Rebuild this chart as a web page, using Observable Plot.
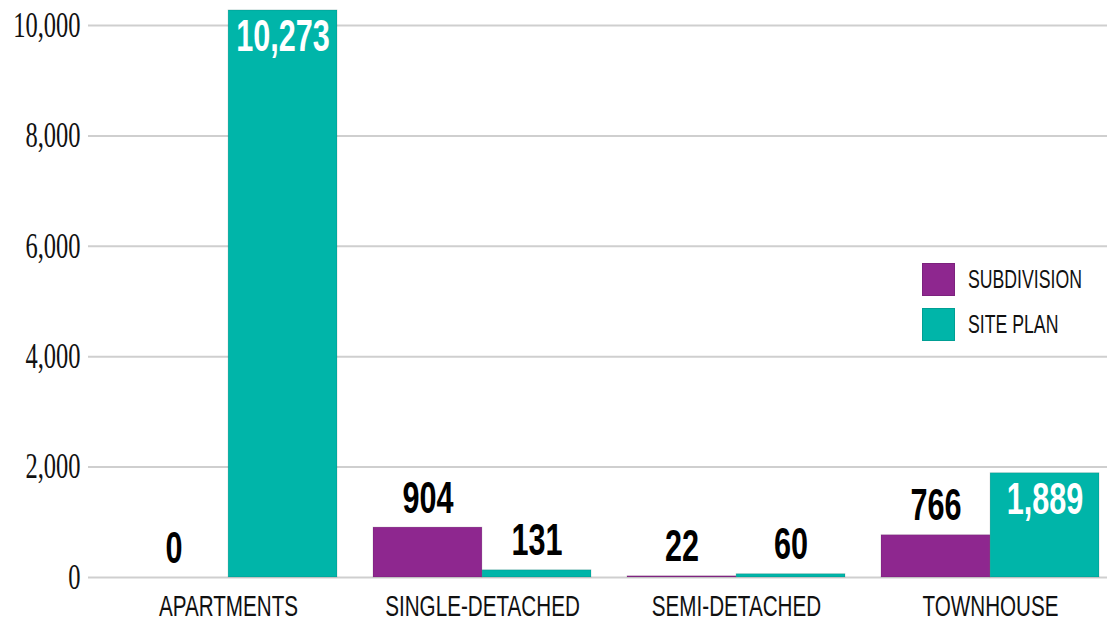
<!DOCTYPE html>
<html>
<head>
<meta charset="utf-8">
<script src="https://cdn.jsdelivr.net/npm/d3@7"></script>
<script src="https://cdn.jsdelivr.net/npm/@observablehq/plot@0.6"></script>
<style>
  html, body { margin: 0; padding: 0; background: #fff; }
  #wrap { position: relative; width: 1107px; height: 626px; overflow: hidden; }
  #chart svg { display: block; }
  #legend { position: absolute; left: 922px; top: 263px; font-family: "Liberation Sans", Arial, sans-serif; font-size: 26px; color: #111; }
  .item { display: flex; align-items: center; height: 33px; margin-bottom: 12px; }
  .sw { width: 33px; height: 33px; box-sizing: border-box; border: 1px solid rgba(0,0,0,0.12); }
  .lab { margin-left: 13px; display: inline-block; transform: scaleX(0.68); transform-origin: left center; white-space: nowrap; }
</style>
</head>
<body>
<div id="wrap">
  <div id="chart"></div>
  <div id="legend"></div>
</div>
<script>
const categories = ["APARTMENTS", "SINGLE-DETACHED", "SEMI-DETACHED", "TOWNHOUSE"];
const seriesNames = ["SUBDIVISION", "SITE PLAN"];
const subdivision = [0, 904, 22, 766];
const sitePlan = [10273, 131, 60, 1889];
const yTicks = [0, 2000, 4000, 6000, 8000, 10000];
const colors = ["#8E278F", "#00B5A9"];

const rows = [];
categories.forEach((c, i) => {
  rows.push({category: c, series: seriesNames[0], value: subdivision[i]});
  rows.push({category: c, series: seriesNames[1], value: sitePlan[i]});
});

const xRange = [118, 1100];
const padInner = 0.143;
const bw = d3.scaleBand(categories, xRange).paddingInner(padInner).paddingOuter(0).bandwidth();
const fmt = d3.format(",");
const insideThreshold = 1500;

function labels(seriesIndex) {
  const data = rows.filter(d => d.series === seriesNames[seriesIndex]);
  const dx = seriesIndex === 0 ? -bw / 4 : bw / 4;
  const common = {x: "category", y: "value", text: d => fmt(d.value), dx, fontSize: 45, fontWeight: "bold", fontFamily: "Liberation Sans, Arial, sans-serif", className: "vlabel"};
  return [
    Plot.text(data.filter(d => d.value <= insideThreshold), {...common, lineAnchor: "bottom", dy: -15, fill: "#000"}),
    Plot.text(data.filter(d => d.value > insideThreshold), {...common, lineAnchor: "top", dy: 9, fill: "#fff"})
  ];
}

const chart = Plot.plot({
  width: 1107,
  height: 626,
  marginLeft: 88,
  marginRight: 0,
  marginTop: 0,
  marginBottom: 49,
  style: {background: "#fff"},
  x: {domain: categories, range: xRange, paddingInner: padInner, paddingOuter: 0, label: null},
  y: {domain: [0, 10000], range: [577, 25], label: null},
  color: {domain: seriesNames, range: colors},
  marks: [
    Plot.ruleY(yTicks, {stroke: "#cfcfcf", strokeWidth: 2}),
    Plot.barY(rows.filter(d => d.series === seriesNames[0]), {x: "category", y: "value", fill: "series", insetRight: bw / 2, stroke: "rgba(0,0,0,0.12)", strokeWidth: 1}),
    Plot.barY(rows.filter(d => d.series === seriesNames[1]), {x: "category", y: "value", fill: "series", insetLeft: bw / 2, stroke: "rgba(0,0,0,0.12)", strokeWidth: 1}),
    ...labels(0),
    ...labels(1),
    Plot.axisY({ticks: yTicks, tickFormat: fmt, tickSize: 0, tickPadding: 8, fontSize: 35, fontFamily: "Liberation Serif, Times New Roman, serif", className: "ytick", label: null}),
    Plot.axisX({tickSize: 0, tickPadding: 18, fontSize: 29.5, fontFamily: "Liberation Sans, Arial, sans-serif", className: "xtick", label: null})
  ]
});

document.getElementById("chart").appendChild(chart);

// Horizontally condense texts around their own anchor point (narrow typeface look)
function condense(selector, factor) {
  chart.querySelectorAll(selector + " text").forEach(t => {
    const tr = t.getAttribute("transform");
    if (tr && /translate/.test(tr)) {
      t.setAttribute("transform", tr + ` scale(${factor},1)`);
    } else {
      const x = +(t.getAttribute("x") || 0);
      t.setAttribute("transform", `translate(${x},0) scale(${factor},1) translate(${-x},0)` + (tr ? " " + tr : ""));
    }
  });
}
condense(".ytick", 0.70);
condense(".xtick", 0.70);
condense(".vlabel", 0.68);
chart.querySelectorAll(".ytick text, .xtick text").forEach(t => t.setAttribute("fill", "#111"));

const legend = document.getElementById("legend");
seriesNames.forEach((s, i) => {
  const item = document.createElement("div");
  item.className = "item";
  const sw = document.createElement("div");
  sw.className = "sw";
  sw.style.background = colors[i];
  const lab = document.createElement("span");
  lab.className = "lab";
  lab.textContent = s;
  item.appendChild(sw);
  item.appendChild(lab);
  legend.appendChild(item);
});
</script>
</body>
</html>
